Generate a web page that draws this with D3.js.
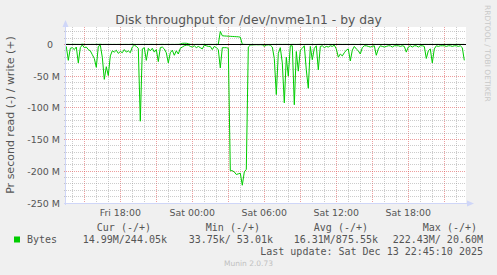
<!DOCTYPE html>
<html>
<head>
<meta charset="utf-8">
<script src="https://cdn.jsdelivr.net/npm/d3@7"></script>
<style>
body { margin: 0; background: #f0f0f0; }
svg text { font-family: "DejaVu Sans", sans-serif; fill: #555; }
svg text.mono { font-family: "DejaVu Sans Mono", monospace; }
</style>
</head>
<body>
<div id="chart"></div>
<script>
const width = 497,
    height = 275;

// samples every 10 minutes, values in MB/s
const firstSample = new Date(2025, 11, 12, 13, 30);
const stepMinutes = 10;

const readM = [
    3, 25, 6, 5, 8, 4, 29, 5, 0.5, 5,
    4, 8, 10, 16, 22, 36, 3, 1, 20, 55,
    35, 49, 18, 10, 12, 9, 14, 11, 13, 8,
    12, 10, 13, 4, 1, 3, 6, 121, 7, 5,
    25, 6, 10, 6, 12, 8, 27, 5, 4, 7,
    13, 29, 13, 9, 17, 10, 15, 6, 4, 2,
    1, 1, 3, 4, 2, 5, 3, 5, 7, 1,
    2, 3, 3, 8, 3, 5, 8, 37, 5, 5,
    5, 6, 199, 199, 201, 205, 204, 203, 222, 201,
    197, 4, 1, 0.5, 0.5, 0.3, 0.5, 0.3, 0.5, 3,
    1, 0.5, 1, 4, 22, 79, 14, 5, 29, 92,
    20, 50, 2, 2, 95, 11, 42, 9, 6, 2,
    40, 69, 3, 24, 6, 2, 40, 3, 2, 5,
    3, 4, 2, 3, 1, 7, 20, 15, 18, 13,
    9, 7, 26, 9, 3, 7, 10, 15, 5, 2,
    2, 3, 4, 3, 2, 17, 7, 2, 3, 4,
    3, 2, 2, 4, 2, 2, 2, 3, 2, 3,
    12, 4, 2, 4, 2, 2, 4, 2, 2, 3,
    22, 10, 7, 29, 7, 2, 3, 2, 2, 2,
    3, 2, 2, 3, 2, 2, 3, 2, 5, 25
];

const writeM = [
    0.2, 0.3, 0.1, 0.2, 0.3, 0.2, 0.2, 0.1, 0.6, 0.2,
    0.1, 0.2, 0.1, 0.2, 0.1, 0.3, 0.2, 0.4, 0.1, 0.2,
    0.2, 0.1, 0.2, 0.1, 0.2, 0.1, 0.2, 0.2, 0.1, 0.2,
    0.2, 0.1, 0.2, 0.4, 0.2, 0.1, 0.2, 0.1, 0.2, 0.1,
    0.2, 0.1, 0.2, 0.2, 0.1, 0.2, 0.1, 0.2, 0.3, 0.1,
    0.2, 0.2, 0.1, 0.2, 0.1, 0.2, 0.2, 0.6, 1.8, 2.0,
    1.9, 1.2, 0.3, 0.2, 0.1, 0.2, 0.2, 0.1, 0.2, 0.2,
    0.1, 0.2, 0.2, 0.1, 0.2, 0.2, 0.3, 20.6, 13.8, 13.5,
    13.3, 13.1, 12.9, 12.7, 12.5, 12.3, 12.1, 11.6, 0.3, 0.2,
    0.1, 0.1, 0.1, 0.1, 0.1, 0.1, 0.1, 0.1, 0.1, 0.1,
    0.1, 0.1, 0.1, 0.1, 0.2, 0.1, 0.2, 0.2, 0.1, 0.2,
    0.2, 0.1, 0.1, 0.2, 0.2, 0.1, 0.2, 0.3, 0.1, 0.1,
    0.2, 0.2, 0.1, 0.2, 0.1, 0.1, 0.2, 0.2, 0.1, 0.1,
    0.2, 0.1, 0.2, 0.1, 0.2, 0.1, 0.2, 0.2, 0.1, 0.2,
    0.2, 0.1, 0.1, 0.2, 0.2, 0.1, 0.1, 0.2, 0.2, 0.1,
    0.2, 0.1, 0.1, 0.2, 0.2, 0.1, 0.2, 0.1, 0.1, 0.2,
    0.2, 0.1, 0.1, 0.2, 0.1, 0.2, 0.2, 0.1, 0.1, 0.2,
    0.2, 0.1, 0.2, 0.1, 0.1, 0.2, 0.2, 0.1, 0.1, 0.2,
    0.2, 0.1, 0.2, 0.1, 0.1, 0.2, 0.2, 0.1, 0.1, 0.2,
    0.1, 0.2, 0.2, 0.1, 0.1, 0.2, 0.2, 0.1, 0.1, 0.2
];

const yTicks = [0, -50, -100, -150, -200, -250];
const legendHeads = ["Cur (-/+)", "Min (-/+)", "Avg (-/+)", "Max (-/+)"];
const legendValues = ["14.99M/244.05k", "33.75k/ 53.01k", "16.31M/875.55k", "222.43M/ 20.60M"];
const seriesName = "Bytes";
const lastUpdate = "Last update: Sat Dec 13 22:45:10 2025";

const green = "#00cc00",
    axisColor = "#cfd6f8";

const plot = { left: 66, right: 466, top: 27, bottom: 203 };

const x = d3.scaleTime()
    .domain([new Date(2025, 11, 12, 13, 28, 30), new Date(2025, 11, 13, 22, 48, 30)])
    .range([plot.left, plot.right]);

const y = d3.scaleLinear()
    .domain([-250, 27.6])
    .range([plot.bottom, plot.top]);

const svg = d3.select("#chart")
    .append("svg")
    .attr("width", width)
    .attr("height", height);

svg.append("rect").attr("width", width).attr("height", height).attr("fill", "#f0f0f0");
svg.append("rect")
    .attr("x", plot.left).attr("y", plot.top)
    .attr("width", plot.right - plot.left).attr("height", plot.bottom - plot.top)
    .attr("fill", "#fff");

// grille
const grid = svg.append("g").attr("shape-rendering", "crispEdges");
const px = v => Math.floor(v) + 0.5;

grid.selectAll(".vminor")
    .data(x.ticks(d3.timeHour.every(1)))
    .enter().append("line")
    .attr("x1", d => px(x(d))).attr("x2", d => px(x(d)))
    .attr("y1", plot.top).attr("y2", plot.bottom + 2)
    .attr("stroke", d => d.getHours() % 3 === 0 ? "rgba(222,79,79,0.55)" : "rgba(143,143,143,0.45)")
    .attr("stroke-dasharray", "1,1");

grid.selectAll(".hminor")
    .data(d3.range(-250, 21, 10))
    .enter().append("line")
    .attr("x1", plot.left - 2).attr("x2", plot.right)
    .attr("y1", d => px(y(d))).attr("y2", d => px(y(d)))
    .attr("stroke", d => d % 50 === 0 ? "rgba(222,79,79,0.55)" : "rgba(143,143,143,0.45)")
    .attr("stroke-dasharray", "1,1");

// séries
const readData = readM.map((v, i) => ({ t: d3.timeMinute.offset(firstSample, i * stepMinutes), v: -v }));
const writeData = writeM.map((v, i) => ({ t: d3.timeMinute.offset(firstSample, i * stepMinutes), v: v }));

const line = d3.line()
    .x(d => x(d.t))
    .y(d => y(d.v));

svg.append("path")
    .datum(writeData)
    .attr("d", line)
    .attr("fill", "none")
    .attr("stroke", green)
    .attr("stroke-width", 1);

svg.append("path")
    .datum(readData)
    .attr("d", line)
    .attr("fill", "none")
    .attr("stroke", green)
    .attr("stroke-width", 1);

// ligne zéro
svg.append("line")
    .attr("x1", plot.left).attr("x2", plot.right)
    .attr("y1", px(y(0))).attr("y2", px(y(0)))
    .attr("stroke", "#000")
    .attr("shape-rendering", "crispEdges");

// axes et flèches
svg.append("line")
    .attr("x1", plot.left - 0.5).attr("x2", plot.left - 0.5)
    .attr("y1", plot.bottom + 2).attr("y2", plot.top - 4)
    .attr("stroke", axisColor);
svg.append("path")
    .attr("d", `M${plot.left - 3.5},${plot.top} L${plot.left - 0.5},${plot.top - 7} L${plot.left + 2.5},${plot.top} Z`)
    .attr("fill", axisColor);

svg.append("line")
    .attr("x1", plot.left - 2).attr("x2", plot.right + 4)
    .attr("y1", plot.bottom + 0.5).attr("y2", plot.bottom + 0.5)
    .attr("stroke", axisColor);
svg.append("path")
    .attr("d", `M${plot.right + 1},${plot.bottom - 2.5} L${plot.right + 8},${plot.bottom + 0.5} L${plot.right + 1},${plot.bottom + 3.5} Z`)
    .attr("fill", axisColor);

// étiquettes des axes
svg.selectAll(".ylabel")
    .data(yTicks)
    .enter().append("text")
    .attr("x", 60)
    .attr("dx", d => d === 0 ? -7 : 0)
    .attr("y", d => y(d) + 3.5)
    .attr("text-anchor", "end")
    .style("font-size", "9.5px")
    .text(d => d === 0 ? "0" : `${d} M`);

const fmt = d3.timeFormat("%a %H:%M");
svg.selectAll(".xlabel")
    .data(x.ticks(d3.timeHour.every(6)))
    .enter().append("text")
    .attr("x", d => x(d))
    .attr("y", 215.5)
    .attr("text-anchor", "middle")
    .style("font-size", "9.4px")
    .text(d => fmt(d));

svg.append("text")
    .attr("x", width / 2)
    .attr("y", 23.5)
    .attr("text-anchor", "middle")
    .style("font-size", "12.3px")
    .text("Disk throughput for /dev/nvme1n1 - by day");

svg.append("text")
    .attr("transform", `translate(14,${(plot.top + plot.bottom) / 2}) rotate(-90)`)
    .attr("text-anchor", "middle")
    .style("font-size", "11px")
    .text("Pr second read (-) / write (+)");

svg.append("text")
    .attr("transform", "translate(484.5,5) rotate(90)")
    .style("font-size", "7.5px")
    .style("fill", "#c8c8c8")
    .text("RRDTOOL / TOBI OETIKER");

// légende
const colEnds = [151, 260, 368, 477],
    valEnds = [167, 273, 378, 483];

svg.selectAll(".head")
    .data(legendHeads)
    .enter().append("text")
    .attr("class", "mono")
    .attr("x", (d, i) => colEnds[i])
    .attr("y", 230.5)
    .attr("text-anchor", "end")
    .style("font-size", "10px")
    .text(d => d);

svg.append("rect")
    .attr("x", 14).attr("y", 236.5)
    .attr("width", 6).attr("height", 6)
    .attr("fill", green);

svg.append("text")
    .attr("class", "mono")
    .attr("x", 27).attr("y", 242.5)
    .style("font-size", "10px")
    .text(seriesName);

svg.selectAll(".val")
    .data(legendValues)
    .enter().append("text")
    .attr("class", "mono")
    .attr("x", (d, i) => valEnds[i])
    .attr("y", 242.5)
    .attr("text-anchor", "end")
    .style("font-size", "10px")
    .style("white-space", "pre")
    .text(d => d);

svg.append("text")
    .attr("class", "mono")
    .attr("x", 483).attr("y", 254.5)
    .attr("text-anchor", "end")
    .style("font-size", "10px")
    .text(lastUpdate);

svg.append("text")
    .attr("x", width / 2).attr("y", 265.5)
    .attr("text-anchor", "middle")
    .style("font-size", "7.5px")
    .style("fill", "#c0c0c0")
    .text("Munin 2.0.73");
</script>
</body>
</html>
